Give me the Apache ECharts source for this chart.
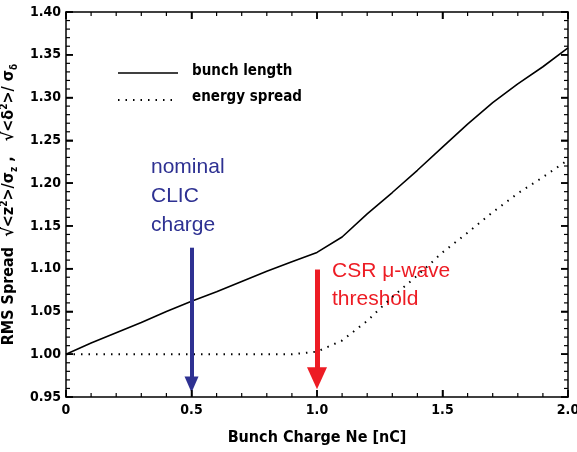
<!DOCTYPE html>
<html>
<head>
<meta charset="utf-8">
<script src="https://cdn.jsdelivr.net/npm/echarts@6/dist/echarts.min.js"></script>
</head>
<body style="margin:0">
<div id="c" style="width:577px;height:452px"></div>
<script>
// ---- data ----
var charge = [0, 0.1, 0.2, 0.3, 0.4, 0.5, 0.6, 0.7, 0.8, 0.9, 1.0, 1.1, 1.2, 1.3, 1.4, 1.5, 1.6, 1.7, 1.8, 1.9, 2.0];
var bunchLength = [1.000, 1.013, 1.025, 1.037, 1.050, 1.062, 1.073, 1.085, 1.097, 1.108, 1.119, 1.137, 1.164, 1.189, 1.215, 1.242, 1.269, 1.294, 1.316, 1.336, 1.358];
var energySpread = [1.000, 1.000, 1.000, 1.000, 1.000, 1.000, 1.000, 1.000, 1.000, 1.000, 1.003, 1.016, 1.039, 1.067, 1.092, 1.119, 1.142, 1.166, 1.188, 1.207, 1.227];
var seriesNames = ['bunch length', 'energy spread'];
var xTicks = [0, 0.5, 1.0, 1.5, 2.0];
var yTicks = [0.95, 1.00, 1.05, 1.10, 1.15, 1.20, 1.25, 1.30, 1.35, 1.40];
var arrowX = [0.5, 1.0];
var arrowTop = [1.1245, 1.099];
var arrowTip = [0.9525, 0.955];
var arrowColors = ['#2e3192', '#ed1c24'];
var noteNominal = 'nominal\nCLIC\ncharge';
var noteCSR = 'CSR \u03bc-wave\nthreshold';
var xTitle = 'Bunch Charge Ne [nC]';

function pairs(xs, ys){ return xs.map(function(x,i){ return [x, ys[i]]; }); }

var xMin = xTicks[0], xMax = xTicks[xTicks.length-1];
var yMin = yTicks[0], yMax = yTicks[yTicks.length-1];
var xStep = xTicks[1]-xTicks[0], yStep = yTicks[1]-yTicks[0];
var xTickMarks = [], yTickMarks = [];
for (var a = 0; a <= (xTicks.length-1)*5; a++) xTickMarks.push([xMin + a*xStep/5, a%5===0 ? 1 : 0]);
for (var b = 0; b <= (yTicks.length-1)*5; b++) yTickMarks.push([yMin + b*yStep/5, b%5===0 ? 1 : 0]);

var chart = echarts.init(document.getElementById('c'));
var labFont = '"Liberation Sans Narrow","DejaVu Sans Condensed",sans-serif';
var axisLineStyle = {color:'#000', width:1.5};
function mkX(pos, showLab){
  return {type:'value', min:xMin, max:xMax, interval:xStep, position:pos,
    axisLine:{show:true, onZero:false, lineStyle:axisLineStyle},
    axisTick:{show:true, inside:true, length:7, lineStyle:{color:'#000', width:1.5}},
    splitLine:{show:false},
    axisLabel:{show:showLab, color:'#000', fontFamily:labFont, fontWeight:'bold', fontSize:14, margin:6,
      formatter:function(v){ return v===0 ? '0' : v.toFixed(1); }},
    name: showLab ? xTitle : '', nameLocation:'middle', nameGap:33,
    nameTextStyle:{color:'#000', fontFamily:labFont, fontWeight:'bold', fontSize:16}
  };
}
function mkY(pos, showLab){
  return {type:'value', min:yMin, max:yMax, interval:yStep, position:pos,
    axisLine:{show:true, onZero:false, lineStyle:axisLineStyle},
    axisTick:{show:true, inside:true, length:7, lineStyle:{color:'#000', width:1.5}},
    splitLine:{show:false},
    axisLabel:{show:showLab, color:'#000', fontFamily:labFont, fontWeight:'bold', fontSize:14, margin:5,
      formatter:function(v){ return v.toFixed(2); }},
    name: showLab ? '{t|RMS Spread  \u221a<z}{sup|2}{t|>/\u03c3}{sub|z}{t| ,   \u221a<\u03b4}{sup|2}{t|>/ \u03c3}{sub|\u03b4}' : '',
    nameLocation:'middle', nameGap:43, nameRotate:90,
    nameTextStyle:{color:'#000', fontFamily:labFont, fontWeight:'bold', fontSize:16,
      rich:{
        t:{fontFamily:labFont, fontWeight:'bold', fontSize:16, lineHeight:20, verticalAlign:'middle', color:'#000'},
        sup:{fontFamily:labFont, fontWeight:'bold', fontSize:10, lineHeight:20, verticalAlign:'top', color:'#000'},
        sub:{fontFamily:labFont, fontWeight:'bold', fontSize:10, lineHeight:20, verticalAlign:'bottom', color:'#000'}
      }}
  };
}

var arrowSeries = arrowX.map(function(x, i){
  return {type:'line', data:[],
    markLine:{symbol:['none','triangle'], symbolSize: i===0 ? [14,16] : [20,22],
      label:{show:false}, animation:false,
      lineStyle:{color:arrowColors[i], width: i===0 ? 4 : 5, type:'solid'},
      data:[[{coord:[x, arrowTop[i]]},{coord:[x, arrowTip[i] + (i===0?0.012:0.017)]}]]}
  };
});

var baseGraphic = [
  {type:'line', shape:{x1:118, y1:73, x2:178, y2:73}, style:{stroke:'#000', lineWidth:1.6}},
  {type:'text', left:192, top:64, style:{text:seriesNames[0], fill:'#000', font:'bold 15px '+labFont}},
  {type:'line', shape:{x1:118, y1:100, x2:178, y2:100}, style:{stroke:'#000', lineWidth:2, lineDash:[1.5,6]}},
  {type:'text', left:192, top:90, style:{text:seriesNames[1], fill:'#000', font:'bold 15px '+labFont}},
  {type:'text', left:151, top:153, style:{text:noteNominal, fill:'#2e3192', font:'21px "Liberation Sans",Arial,sans-serif', lineHeight:29}},
  {type:'text', left:332, top:257, style:{text:noteCSR, fill:'#ed1c24', font:'21px "Liberation Sans",Arial,sans-serif', lineHeight:28}}
];

chart.setOption({
  animation:false,
  grid:{left:66, right:9, top:12, bottom:55, containLabel:false, outerBoundsMode:'none'},
  xAxis:[mkX('bottom', true), mkX('top', false)],
  yAxis:[mkY('left', true), mkY('right', false)],
  series:[
    {name:seriesNames[0], type:'line', data:pairs(charge, bunchLength), symbol:'none',
      lineStyle:{color:'#000', width:1.6}},
    {name:seriesNames[1], type:'line', data:pairs(charge, energySpread), symbol:'none',
      lineStyle:{color:'#000', width:2, type:[1.5,6]}}
  ].concat(arrowSeries),
  graphic: baseGraphic
});

// tick marks (major + minor) placed through the chart's own scales
var tickG = [];
function tk(x1, y1, x2, y2, major){
  tickG.push({type:'line', z:50, shape:{x1:x1, y1:y1, x2:x2, y2:y2}, style:{stroke:'#000', lineWidth: major ? 1.5 : 1.2}});
}
xTickMarks.forEach(function(m){
  var len = m[1] ? 7 : 4;
  var p0 = chart.convertToPixel({gridIndex:0}, [m[0], yMin]);
  var p1 = chart.convertToPixel({gridIndex:0}, [m[0], yMax]);
  tk(p0[0], p0[1], p0[0], p0[1]-len, m[1]);
  tk(p1[0], p1[1], p1[0], p1[1]+len, m[1]);
});
yTickMarks.forEach(function(m){
  var len = m[1] ? 7 : 4;
  var p0 = chart.convertToPixel({gridIndex:0}, [xMin, m[0]]);
  var p1 = chart.convertToPixel({gridIndex:0}, [xMax, m[0]]);
  tk(p0[0], p0[1], p0[0]+len, p0[1], m[1]);
  tk(p1[0], p1[1], p1[0]-len, p1[1], m[1]);
});
chart.setOption({graphic: baseGraphic.concat(tickG)});
</script>
</body>
</html>
